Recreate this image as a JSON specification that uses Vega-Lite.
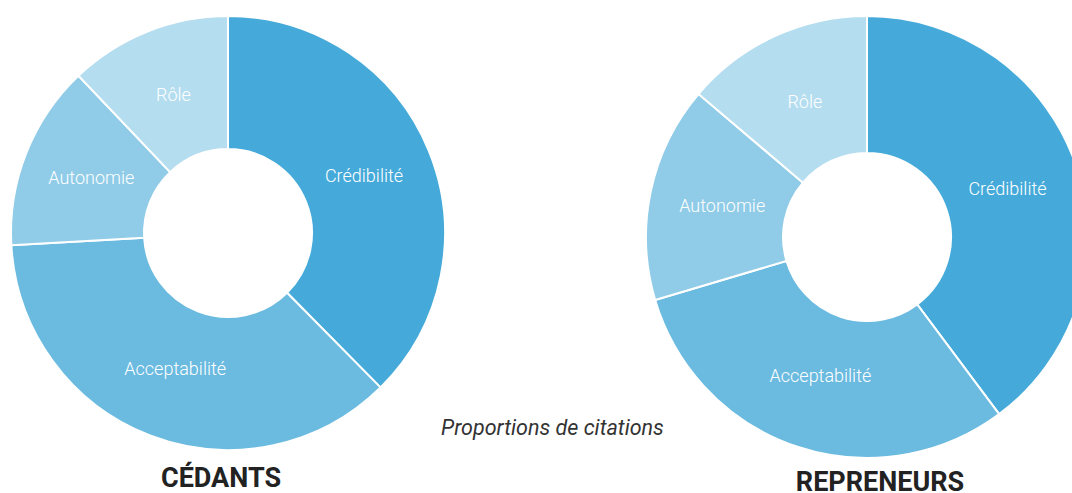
{
  "$schema": "https://vega.github.io/schema/vega-lite/v6.json",
  "padding": {"left": 5, "top": 5, "right": 0, "bottom": 0},
  "spacing": 0,
  "bounds": "flush",
  "background": "white",
  "config": {"view": {"stroke": null}, "font": "Roboto"},
  "data": {
    "values": [
      {"groupe": "CÉDANTS", "categorie": "Crédibilité", "ordre": 1, "part": 37.6},
      {"groupe": "CÉDANTS", "categorie": "Acceptabilité", "ordre": 2, "part": 36.5},
      {"groupe": "CÉDANTS", "categorie": "Autonomie", "ordre": 3, "part": 13.8},
      {"groupe": "CÉDANTS", "categorie": "Rôle", "ordre": 4, "part": 12.1},
      {"groupe": "REPRENEURS", "categorie": "Crédibilité", "ordre": 1, "part": 39.8},
      {"groupe": "REPRENEURS", "categorie": "Acceptabilité", "ordre": 2, "part": 30.6},
      {"groupe": "REPRENEURS", "categorie": "Autonomie", "ordre": 3, "part": 15.8},
      {"groupe": "REPRENEURS", "categorie": "Rôle", "ordre": 4, "part": 13.8}
    ]
  },
  "hconcat": [
    {
      "width": 446,
      "height": 456,
      "title": {"text": "CÉDANTS", "orient": "bottom", "anchor": "middle", "fontSize": 27, "fontWeight": "bold", "color": "#222222", "offset": 5, "dx": -7},
      "transform": [{"filter": "datum.groupe === 'CÉDANTS'"}],
      "encoding": {
        "theta": {"field": "part", "type": "quantitative", "stack": true},
        "order": {"field": "ordre", "type": "quantitative"}
      },
      "layer": [
        {
          "mark": {"type": "arc", "innerRadius": 84, "outerRadius": 217, "stroke": "white", "strokeWidth": 2},
          "encoding": {
            "color": {"field": "categorie", "type": "nominal", "legend": null,
              "scale": {"domain": ["Crédibilité", "Acceptabilité", "Autonomie", "Rôle"], "range": ["#45aad9", "#6bbadf", "#90cce8", "#b4ddef"]}}
          }
        },
        {
          "mark": {"type": "text", "radius": 147, "color": "white", "fontSize": 18, "fontWeight": 300, "align": "center", "baseline": "middle"},
          "encoding": {"text": {"field": "categorie", "type": "nominal"}, "detail": {"field": "categorie", "type": "nominal"}}
        }
      ]
    },
    {
      "width": 211,
      "height": 414,
      "title": {"text": "Proportions de citations", "orient": "bottom", "anchor": "middle", "fontSize": 21.5, "fontStyle": "italic", "fontWeight": "normal", "color": "#333333", "offset": -1, "dx": -4},
      "transform": [{"filter": "datum.ordre === 1 && datum.groupe === 'CÉDANTS'"}],
      "mark": {"type": "text"},
      "encoding": {"text": {"value": ""}}
    },
    {
      "width": 410,
      "height": 464,
      "title": {"text": "REPRENEURS", "orient": "bottom", "anchor": "middle", "fontSize": 27, "fontWeight": "bold", "color": "#222222", "offset": 1, "dx": 13},
      "transform": [{"filter": "datum.groupe === 'REPRENEURS'"}],
      "encoding": {
        "theta": {"field": "part", "type": "quantitative", "stack": true},
        "order": {"field": "ordre", "type": "quantitative"}
      },
      "layer": [
        {
          "mark": {"type": "arc", "innerRadius": 84, "outerRadius": 221, "stroke": "white", "strokeWidth": 2},
          "encoding": {
            "color": {"field": "categorie", "type": "nominal", "legend": null,
              "scale": {"domain": ["Crédibilité", "Acceptabilité", "Autonomie", "Rôle"], "range": ["#45aad9", "#6bbadf", "#90cce8", "#b4ddef"]}}
          }
        },
        {
          "mark": {"type": "text", "radius": 148, "color": "white", "fontSize": 18, "fontWeight": 300, "align": "center", "baseline": "middle"},
          "encoding": {"text": {"field": "categorie", "type": "nominal"}, "detail": {"field": "categorie", "type": "nominal"}}
        }
      ]
    }
  ]
}
